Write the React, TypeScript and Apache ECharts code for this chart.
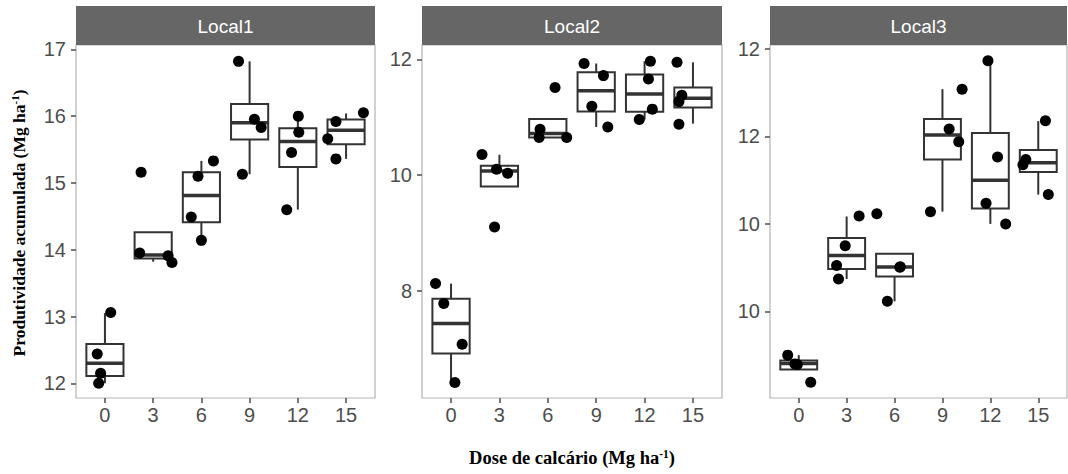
import React, { useEffect, useRef } from "react";
import * as echarts from "echarts";

// ---------- data ----------
const doses = ["0", "3", "6", "9", "12", "15"];
const panels = ["Local1", "Local2", "Local3"];

// box statistics per dose (low whisker, Q1, median, Q3, high whisker)
const local1Low = [12.0, 13.82, 14.14, 15.13, 14.6, 15.36];
const local1Q1 = [12.11, 13.87, 14.41, 15.65, 15.24, 15.58];
const local1Med = [12.3, 13.92, 14.81, 15.9, 15.62, 15.79];
const local1Q3 = [12.59, 14.26, 15.16, 16.18, 15.82, 15.95];
const local1High = [13.05, 14.26, 15.33, 16.82, 16.0, 16.04];

const local2Low = [6.41, 9.8, 10.65, 10.83, 10.96, 10.89];
const local2Q1 = [6.91, 9.8, 10.65, 11.1, 11.095, 11.17];
const local2Med = [7.43, 10.07, 10.72, 11.46, 11.4, 11.33];
const local2Q3 = [7.86, 10.16, 10.97, 11.78, 11.74, 11.515];
const local2High = [8.12, 10.35, 10.97, 11.93, 11.97, 11.95];

const local3Low = [6.67, 8.74, 8.23, 10.28, 10.0, 10.67];
const local3Q1 = [6.67, 8.97, 8.8, 11.47, 10.35, 11.185];
const local3Med = [6.81, 9.275, 9.015, 12.03, 11.0, 11.4];
const local3Q3 = [6.88, 9.68, 9.32, 12.4, 12.08, 11.69];
const local3High = [7.0, 10.17, 9.32, 13.08, 13.73, 12.35];

// observations per dose and their horizontal jitter (in dose-slot units)
const local1Values = [
  [13.06, 12.44, 12.15, 12.0],
  [15.16, 13.95, 13.91, 13.81],
  [15.1, 15.33, 14.49, 14.14],
  [16.82, 15.955, 15.83, 15.13],
  [16.0, 15.76, 15.455, 14.6],
  [16.05, 15.92, 15.66, 15.36],
];
const local1Jitter = [
  [0.12, -0.16, -0.09, -0.13],
  [-0.25, -0.28, 0.31, 0.39],
  [-0.07, 0.25, -0.21, 0.0],
  [-0.23, 0.1, 0.24, -0.15],
  [0.01, 0.02, -0.13, -0.23],
  [0.36, -0.21, -0.38, -0.21],
];
const local2Values = [
  [8.12, 7.775, 7.07, 6.41],
  [10.355, 10.1, 10.03, 9.1],
  [11.515, 10.79, 10.65, 10.65],
  [11.93, 11.72, 11.19, 10.83],
  [11.97, 11.66, 11.14, 10.96],
  [11.95, 11.38, 11.27, 10.88],
];
const local2Jitter = [
  [-0.32, -0.15, 0.23, 0.08],
  [-0.36, -0.06, 0.17, -0.1],
  [0.15, -0.16, -0.18, 0.39],
  [-0.25, 0.15, -0.09, 0.24],
  [0.12, 0.08, 0.16, -0.11],
  [-0.33, -0.23, -0.29, -0.29],
];
const local3Values = [
  [7.0, 6.8, 6.785, 6.38],
  [10.18, 9.5, 9.05, 8.74],
  [10.23, 9.02, 9.01, 8.23],
  [13.08, 12.17, 11.88, 10.28],
  [13.73, 11.53, 10.47, 10.0],
  [12.36, 11.47, 11.35, 10.67],
];
const local3Jitter = [
  [-0.23, -0.08, -0.03, 0.25],
  [0.26, -0.03, -0.21, -0.17],
  [-0.37, 0.12, 0.11, -0.15],
  [0.41, 0.14, 0.34, -0.25],
  [-0.05, 0.15, -0.09, 0.32],
  [0.15, -0.26, -0.32, 0.21],
];

// y-axis ticks and labels
const local1YTicks = [12, 13, 14, 15, 16, 17];
const local1YLabels = ["12", "13", "14", "15", "16", "17"];
const local2YTicks = [8, 10, 12];
const local2YLabels = ["8", "10", "12"];
const local3YTicks = [8, 10, 12, 14];
const local3YLabels = ["10", "10", "12", "12"];

const yTitle = "Produtividade acumulada (Mg ha";
const xTitle = "Dose de calcário (Mg ha";

// ---------- layout / style ----------
const gridLefts = [76, 422, 770];
const gridWidths = [299, 300, 297];
const gridTop = 45;
const gridHeight = 353;
const yRanges: [number, number][] = [
  [11.78, 17.065],
  [6.14, 12.25],
  [6.02, 14.09],
];
const BOX_HALF = 0.385;
const STROKE = "#333333";

export default function App() {
  const ref = useRef<HTMLDivElement>(null);

  useEffect(() => {
    if (!ref.current) return;
    const chart = echarts.init(ref.current, undefined, { renderer: "svg" });

    const boxSets = [
      [local1Low, local1Q1, local1Med, local1Q3, local1High],
      [local2Low, local2Q1, local2Med, local2Q3, local2High],
      [local3Low, local3Q1, local3Med, local3Q3, local3High],
    ];
    const valueSets = [local1Values, local2Values, local3Values];
    const jitterSets = [local1Jitter, local2Jitter, local3Jitter];
    const yTickSets = [local1YTicks, local2YTicks, local3YTicks];
    const yLabelSets = [local1YLabels, local2YLabels, local3YLabels];

    const renderBox = (params: any, api: any) => {
      const x = api.value(0);
      const low = api.value(1);
      const q1 = api.value(2);
      const med = api.value(3);
      const q3 = api.value(4);
      const high = api.value(5);
      const half = api.size([BOX_HALF, 0])[0];
      const pLow = api.coord([x, low]);
      const pQ1 = api.coord([x, q1]);
      const pMed = api.coord([x, med]);
      const pQ3 = api.coord([x, q3]);
      const pHigh = api.coord([x, high]);
      const children: any[] = [];
      if (high > q3) {
        children.push({
          type: "line",
          shape: { x1: pQ3[0], y1: pQ3[1], x2: pHigh[0], y2: pHigh[1] },
          style: { stroke: STROKE, lineWidth: 2 },
        });
      }
      if (low < q1) {
        children.push({
          type: "line",
          shape: { x1: pQ1[0], y1: pQ1[1], x2: pLow[0], y2: pLow[1] },
          style: { stroke: STROKE, lineWidth: 2 },
        });
      }
      children.push({
        type: "rect",
        shape: { x: pQ3[0] - half, y: pQ3[1], width: half * 2, height: pQ1[1] - pQ3[1] },
        style: { fill: "#ffffff", stroke: STROKE, lineWidth: 2 },
      });
      children.push({
        type: "line",
        shape: { x1: pMed[0] - half, y1: pMed[1], x2: pMed[0] + half, y2: pMed[1] },
        style: { stroke: STROKE, lineWidth: 3.5 },
      });
      return { type: "group", children };
    };

    const grids = gridLefts.map((l, i) => ({
      left: l,
      top: gridTop,
      width: gridWidths[i],
      height: gridHeight,
      show: true,
      borderColor: "#b3b3b3",
      borderWidth: 1.2,
      backgroundColor: "#ffffff",
    }));

    const xAxes = gridLefts.map((_, i) => ({
      type: "value",
      gridIndex: i,
      min: -0.6,
      max: 5.6,
      position: "bottom",
      axisLine: { show: false, onZero: false },
      splitLine: { show: false },
      axisTick: {
        show: true,
        length: 5,
        customValues: doses.map((_d, k) => k),
        lineStyle: { color: "#4d4d4d", width: 1.5 },
      },
      axisLabel: {
        customValues: doses.map((_d, k) => k),
        formatter: (v: number) => doses[Math.round(v)] ?? "",
        color: "#4d4d4d",
        fontSize: 20,
        fontFamily: "Liberation Sans",
        margin: 7,
      },
    }));

    const yAxes = gridLefts.map((_, i) => ({
      type: "value",
      gridIndex: i,
      min: yRanges[i][0],
      max: yRanges[i][1],
      position: "left",
      axisLine: { show: false, onZero: false },
      splitLine: { show: false },
      axisTick: {
        show: true,
        length: 5,
        customValues: yTickSets[i],
        lineStyle: { color: "#4d4d4d", width: 1.5 },
      },
      axisLabel: {
        customValues: yTickSets[i],
        formatter: (v: number) => {
          const k = yTickSets[i].findIndex((t) => Math.abs(t - v) < 1e-6);
          return k >= 0 ? yLabelSets[i][k] : "";
        },
        color: "#4d4d4d",
        fontSize: 20,
        fontFamily: "Liberation Sans",
        margin: 10,
      },
    }));

    const series: any[] = [];
    for (let i = 0; i < 3; i++) {
      const [lo, q1, md, q3, hi] = boxSets[i];
      series.push({
        type: "custom",
        xAxisIndex: i,
        yAxisIndex: i,
        renderItem: renderBox,
        encode: { x: 0, y: [1, 2, 3, 4, 5] },
        data: doses.map((_d, k) => [k, lo[k], q1[k], md[k], q3[k], hi[k]]),
        z: 2,
      });
      const pts: number[][] = [];
      valueSets[i].forEach((vals, k) => {
        vals.forEach((v, j) => pts.push([k + jitterSets[i][k][j], v]));
      });
      series.push({
        type: "scatter",
        xAxisIndex: i,
        yAxisIndex: i,
        data: pts,
        symbol: "circle",
        symbolSize: 11,
        itemStyle: { color: "#000000", opacity: 1 },
        z: 3,
      });
    }

    const graphics: any[] = [];
    gridLefts.forEach((l, i) => {
      graphics.push({
        type: "rect",
        shape: { x: l, y: 6, width: gridWidths[i], height: 39 },
        style: { fill: "#666666" },
      });
      graphics.push({
        type: "text",
        x: l + gridWidths[i] / 2,
        y: 26,
        style: {
          text: panels[i],
          fill: "#ffffff",
          fontSize: 19,
          fontFamily: "Liberation Sans",
          align: "center",
          verticalAlign: "middle",
        },
      });
    });
    const richY = {
      n: { fontSize: 17.5, fontWeight: "bold", fontFamily: "Liberation Serif", color: "#000" },
      s: { fontSize: 11, fontWeight: "bold", fontFamily: "Liberation Serif", color: "#000", padding: [0, 0, 8, 0] },
    };
    const richX = {
      n: { fontSize: 18.5, fontWeight: "bold", fontFamily: "Liberation Serif", color: "#000" },
      s: { fontSize: 11.5, fontWeight: "bold", fontFamily: "Liberation Serif", color: "#000", padding: [0, 0, 8, 0] },
    };
    graphics.push({
      type: "text",
      x: 19,
      y: 223,
      rotation: Math.PI / 2,
      style: {
        text: `{n|${yTitle}}{s|-1}{n|)}`,
        rich: richY,
        align: "center",
        verticalAlign: "middle",
      },
    });
    graphics.push({
      type: "text",
      x: 572,
      y: 458,
      style: {
        text: `{n|${xTitle}}{s|-1}{n|)}`,
        rich: richX,
        align: "center",
        verticalAlign: "middle",
      },
    });

    chart.setOption({
      animation: false,
      backgroundColor: "#ffffff",
      grid: grids,
      xAxis: xAxes,
      yAxis: yAxes,
      series,
      graphic: graphics,
    });

    return () => chart.dispose();
  }, []);

  return (
    <div
      ref={ref}
      style={{ position: "fixed", left: 0, top: 0, width: 1068, height: 474 }}
    />
  );
}
